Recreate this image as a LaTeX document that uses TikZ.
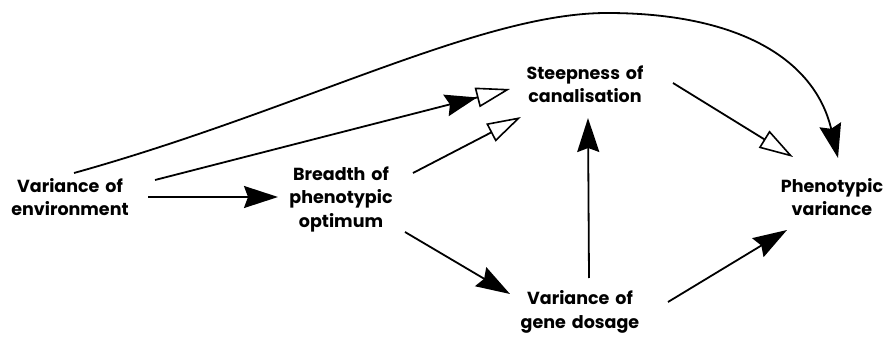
\documentclass[tikz,border=0pt]{standalone}
\usepackage{fontspec}
\setmainfont{Poppins}[WordSpace={1.6}]
\usetikzlibrary{arrows.meta,calc}
\begin{document}
\begin{tikzpicture}[x=1pt,y=-1pt,
  lbl/.style={align=center,inner sep=0pt,font=\fontsize{17.5}{23.5}\selectfont\bfseries},
  conn/.style={line width=1.8pt},
  fhead/.style={conn,-{Stealth[length=34pt,width=22pt,inset=4pt]}},
  ohead/.style={conn,-{Triangle[open,length=34pt,width=20pt,line width=1.6pt]}},
  dhead/.style={conn,-{Stealth[length=32pt,width=22pt,inset=4pt]Triangle[open,length=34pt,width=20pt,line width=1.6pt]}}]
\useasboundingbox[fill=white] (0,0) rectangle (895,337);
\node[lbl] (env) at (70,197) {Variance of\\environment};
\node[lbl] (bre) at (341,199) {Breadth of\\phenotypic\\optimum};
\node[lbl] (ste) at (585,84) {Steepness of\\canalisation};
\node[lbl] (dos) at (580,312) {Variance of\\gene dosage};
\node[lbl] (phe) at (832,197) {Phenotypic\\variance};
\coordinate (peak) at (607,13);
% env -> breadth
\draw[fhead] ($(env)+(78,0)$) -- ($(bre)+(-63,-2)$);
% env -> steepness (double head)
\draw[dhead] ($(env)+(85,-17)$) -- ($(ste)+(-75,5)$);
% breadth -> steepness
\draw[ohead] ($(bre)+(72,-26)$) -- ($(ste)+(-64,33)$);
% breadth -> dosage
\draw[fhead] ($(bre)+(64,33)$) -- ($(dos)+(-70,-18)$);
% dosage -> steepness
\draw[fhead] ($(dos)+(9,-34)$) -- ($(ste)+(3,34)$);
% steepness -> phenotypic
\draw[ohead] ($(ste)+(88,-1)$) -- ($(phe)+(-39,-40)$);
% dosage -> phenotypic
\draw[fhead] ($(dos)+(88,-10)$) -- ($(phe)+(-45,33)$);
% curved env -> phenotypic
\draw[fhead] ($(env)+(4,-24)$) .. controls (300,110) and (480,13) .. (peak)
  .. controls (740,13) and (815,60) .. ($(phe)+(6,-39)$);
\end{tikzpicture}
\end{document}
